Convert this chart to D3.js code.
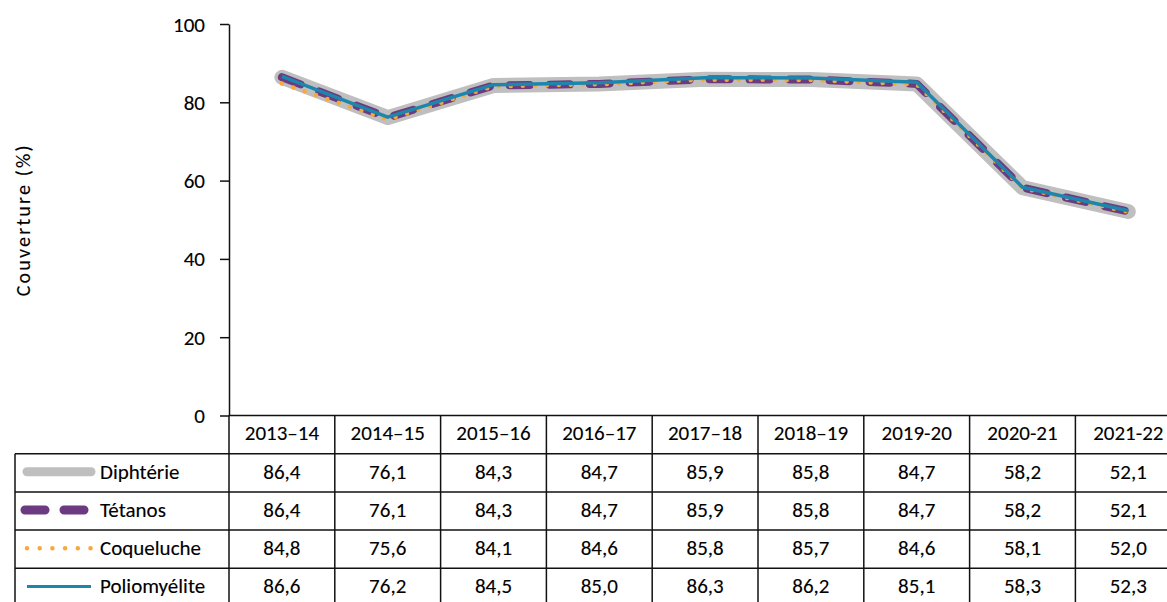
<!DOCTYPE html>
<html>
<head>
<meta charset="utf-8">
<script src="https://cdn.jsdelivr.net/npm/d3@7"></script>
<style>
  body { margin: 0; background: #fff; }
  svg { display: block; }
  text { font-family: Carlito, Calibri, Lato, sans-serif; fill: #000; stroke: #000; stroke-width: 0.12px; }
</style>
</head>
<body>
<svg id="chart" width="1167" height="602"></svg>
<script>
const categories = ["2013–14","2014–15","2015–16","2016–17","2017–18","2018–19","2019-20","2020-21","2021-22"];
const diphterie   = [86.4, 76.1, 84.3, 84.7, 85.9, 85.8, 84.7, 58.2, 52.1];
const tetanos     = [86.4, 76.1, 84.3, 84.7, 85.9, 85.8, 84.7, 58.2, 52.1];
const coqueluche  = [84.8, 75.6, 84.1, 84.6, 85.8, 85.7, 84.6, 58.1, 52.0];
const poliomyelite= [86.6, 76.2, 84.5, 85.0, 86.3, 86.2, 85.1, 58.3, 52.3];
const seriesNames = ["Diphtérie", "Tétanos", "Coqueluche", "Poliomyélite"];
const yTicks = [0, 20, 40, 60, 80, 100];
const yLabel = "Couverture (%)";

const seriesValues = [diphterie, tetanos, coqueluche, poliomyelite];
const styles = [
  { color: "#BFBFBF", width: 15, dash: null, cap: "round", lw: 9, ldash: null },
  { color: "#6C3A80", width: 8, dash: "20,20", cap: "round", lw: 9, ldash: "20,19" },
  { color: "#F7A83A", width: 4.5, dash: "0,12", cap: "round", lw: 4.5, ldash: "0,12.7" },
  { color: "#1D86AC", width: 3.5, dash: null, cap: "butt", lw: 3, ldash: null }
];

const svg = d3.select("#chart");
const W = 1167, H = 602;
const fontSize = 21;
const baseOff = 6;

const axisX = 229;
const colW = 105.8;
const x = d3.scaleBand().domain(categories).range([axisX, axisX + colW * categories.length]).padding(0);
const y = d3.scaleLinear().domain([0, 100]).range([415.5, 24]);
const rows = d3.scaleBand().domain(["header", ...seriesNames]).range([415.5, 415.5 + 5 * 38.2]).padding(0);

const fmt = d3.formatLocale({ decimal: ",", thousands: " ", grouping: [3], currency: ["", ""] }).format(".1f");

// Y axis
const yAxis = d3.axisLeft(y).tickValues(yTicks).tickSize(9).tickSizeOuter(0).tickPadding(15);
const gy = svg.append("g").attr("transform", `translate(${axisX},0)`).call(yAxis);
gy.select(".domain").attr("stroke", "#111").attr("stroke-width", 1.5);
gy.selectAll(".tick line").attr("stroke", "#111").attr("stroke-width", 1.5);
gy.selectAll(".tick text").attr("font-size", fontSize).attr("fill", "#000")
  .attr("dy", null).attr("dominant-baseline", null).attr("y", baseOff + 1)
  .style("font-family", "Carlito, Calibri, Lato, sans-serif");

svg.append("text")
  .attr("transform", `translate(30,${(y(0) + y(100)) / 2}) rotate(-90)`)
  .attr("text-anchor", "middle")
  .attr("font-size", 20).attr("letter-spacing", 2.2).text(yLabel);

// Lines
const line = d3.line().x((d, i) => x(categories[i]) + x.bandwidth() / 2).y(d => y(d));
seriesValues.forEach((vals, k) => {
  const s = styles[k];
  svg.append("path").datum(vals)
    .attr("d", line)
    .attr("fill", "none")
    .attr("stroke", s.color)
    .attr("stroke-width", s.width)
    .attr("stroke-linecap", s.cap)
    .attr("stroke-linejoin", "round")
    .attr("stroke-dasharray", s.dash);
});

// Table
const tg = svg.append("g");
const lineColor = "#111", lw = 1.5;
const tableBottom = H + 5;
tg.append("line").attr("x1", axisX).attr("x2", W).attr("y1", y(0)).attr("y2", y(0))
  .attr("stroke", lineColor).attr("stroke-width", lw);
tg.append("line").attr("x1", axisX).attr("x2", axisX).attr("y1", y(0)).attr("y2", tableBottom)
  .attr("stroke", lineColor).attr("stroke-width", lw);
tg.selectAll("line.col").data(categories).enter().append("line")
  .attr("x1", d => x(d) + x.bandwidth()).attr("x2", d => x(d) + x.bandwidth())
  .attr("y1", y(0)).attr("y2", tableBottom)
  .attr("stroke", lineColor).attr("stroke-width", lw);
tg.append("line").attr("x1", 15).attr("x2", 15).attr("y1", rows(seriesNames[0])).attr("y2", tableBottom)
  .attr("stroke", lineColor).attr("stroke-width", lw);
tg.selectAll("line.row").data(seriesNames).enter().append("line")
  .attr("x1", 15).attr("x2", W)
  .attr("y1", d => rows(d)).attr("y2", d => rows(d))
  .attr("stroke", lineColor).attr("stroke-width", lw);

tg.selectAll("text.hdr").data(categories).enter().append("text")
  .attr("x", d => x(d) + x.bandwidth() / 2)
  .attr("y", rows("header") + rows.bandwidth() / 2 + baseOff - 0.5)
  .attr("text-anchor", "middle")
  .attr("font-size", fontSize).text(d => d);

seriesNames.forEach((name, k) => {
  const cy = rows(name) + rows.bandwidth() / 2;
  const s = styles[k];
  tg.append("line")
    .attr("x1", k === 1 ? 25 : 27).attr("x2", k === 1 ? 84 : 91)
    .attr("y1", cy - 1).attr("y2", cy - 1)
    .attr("stroke", s.color).attr("stroke-width", s.lw)
    .attr("stroke-linecap", k === 3 ? "butt" : "round")
    .attr("stroke-dasharray", s.ldash);
  tg.append("text").attr("x", 100).attr("y", cy + baseOff)
    .attr("font-size", fontSize).text(name);
  tg.selectAll(null).data(seriesValues[k]).enter().append("text")
    .attr("x", (d, i) => x(categories[i]) + x.bandwidth() / 2)
    .attr("y", cy + baseOff)
    .attr("text-anchor", "middle")
    .attr("font-size", fontSize).text(d => fmt(d));
});
</script>
</body>
</html>
